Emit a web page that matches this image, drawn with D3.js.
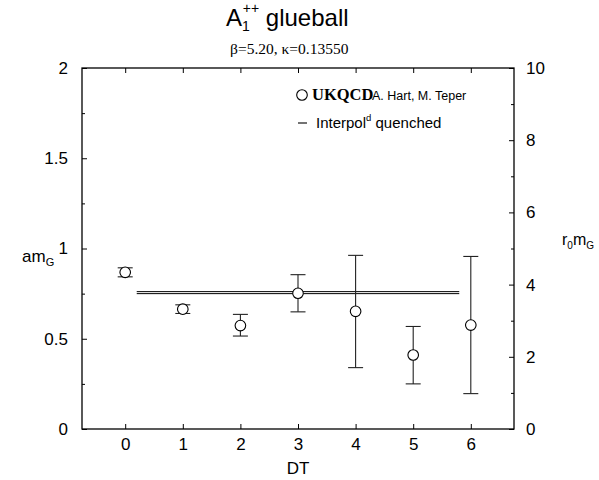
<!DOCTYPE html>
<html>
<head>
<meta charset="utf-8">
<script src="https://d3js.org/d3.v7.min.js"></script>
<style>
  body { margin: 0; background: #fff; }
  svg { font-family: "Liberation Sans", Arial, sans-serif; }
  .axis path { display: none; }
  .axis line { stroke: #000; }
  .axis text { font-size: 17px; fill: #000; font-family: "Liberation Sans", Arial, sans-serif; }
</style>
</head>
<body>
<div id="chart"></div>
<script>
// data
var dtValues   = [0, 1, 2, 3, 4, 5, 6];
var massValues = [0.868, 0.664, 0.573, 0.752, 0.652, 0.410, 0.576];
var errUpper   = [0.025, 0.024, 0.062, 0.103, 0.310, 0.158, 0.380];
var errLower   = [0.025, 0.024, 0.058, 0.103, 0.312, 0.160, 0.380];
var quenchedBand = [0.750, 0.761];
var quenchedRange = [0.2, 5.8];
var xTicks = [0, 1, 2, 3, 4, 5, 6];
var yTicks = [0, 0.5, 1, 1.5, 2];
var yMinorTicks = [0.25, 0.75, 1.25, 1.75];
var y2Ticks = [0, 2, 4, 6, 8, 10];
var y2MinorTicks = [1, 3, 5, 7, 9];

var width = 599, height = 480;
var plotL = 82, plotR = 514, plotT = 68, plotB = 429;

var svg = d3.select("#chart").append("svg")
  .attr("width", width)
  .attr("height", height);

var x = d3.scaleLinear().domain([-0.75, 6.75]).range([plotL, plotR]);
var y = d3.scaleLinear().domain([0, 2]).range([plotB, plotT]);
var y2 = d3.scaleLinear().domain([0, 10]).range([plotB, plotT]);

// axes, ticks pointing inward
svg.append("g").attr("class", "axis")
  .attr("transform", "translate(0," + plotB + ")")
  .call(d3.axisBottom(x).tickValues(xTicks).tickSize(-5).tickPadding(9).tickFormat(d3.format("d")));
svg.append("g").attr("class", "axis")
  .attr("transform", "translate(0," + plotT + ")")
  .call(d3.axisTop(x).tickValues(xTicks).tickSize(-5).tickFormat(""));
svg.append("g").attr("class", "axis")
  .attr("transform", "translate(" + plotL + ",0)")
  .call(d3.axisLeft(y).tickValues(yTicks).tickSize(-5).tickPadding(14).tickFormat(function(d){ return String(d); }));
svg.append("g").attr("class", "axis")
  .attr("transform", "translate(" + plotL + ",0)")
  .call(d3.axisLeft(y).tickValues(yMinorTicks).tickSize(-3).tickFormat(""));
svg.append("g").attr("class", "axis")
  .attr("transform", "translate(" + plotR + ",0)")
  .call(d3.axisRight(y2).tickValues(y2Ticks).tickSize(-5).tickPadding(12));
svg.append("g").attr("class", "axis")
  .attr("transform", "translate(" + plotR + ",0)")
  .call(d3.axisRight(y2).tickValues(y2MinorTicks).tickSize(-3).tickFormat(""));

// frame
svg.append("rect")
  .attr("x", plotL).attr("y", plotT)
  .attr("width", plotR - plotL).attr("height", plotB - plotT)
  .attr("fill", "none").attr("stroke", "#000").attr("stroke-width", 1.3);

// quenched band (two lines)
svg.selectAll(".qline").data(quenchedBand).enter().append("line")
  .attr("x1", x(quenchedRange[0])).attr("x2", x(quenchedRange[1]))
  .attr("y1", function(d){ return y(d); }).attr("y2", function(d){ return y(d); })
  .attr("stroke", "#000").attr("stroke-width", 1);

// error bars
var pts = dtValues.map(function(d, i){
  return { dt: d, m: massValues[i], hi: massValues[i] + errUpper[i], lo: massValues[i] - errLower[i] };
});
var cap = 7.5;
var eb = svg.append("g").attr("stroke", "#222").attr("stroke-width", 1.1);
eb.selectAll(".v").data(pts).enter().append("line")
  .attr("x1", function(d){ return x(d.dt); }).attr("x2", function(d){ return x(d.dt); })
  .attr("y1", function(d){ return y(d.hi); }).attr("y2", function(d){ return y(d.lo); });
eb.selectAll(".t").data(pts).enter().append("line")
  .attr("x1", function(d){ return x(d.dt) - cap; }).attr("x2", function(d){ return x(d.dt) + cap; })
  .attr("y1", function(d){ return y(d.hi); }).attr("y2", function(d){ return y(d.hi); });
eb.selectAll(".b").data(pts).enter().append("line")
  .attr("x1", function(d){ return x(d.dt) - cap; }).attr("x2", function(d){ return x(d.dt) + cap; })
  .attr("y1", function(d){ return y(d.lo); }).attr("y2", function(d){ return y(d.lo); });
svg.selectAll(".pt").data(pts).enter().append("circle")
  .attr("cx", function(d){ return x(d.dt); })
  .attr("cy", function(d){ return y(d.m); })
  .attr("r", 5.3)
  .attr("fill", "#fff").attr("stroke", "#000").attr("stroke-width", 1.1);

// title
var title = svg.append("text").attr("x", 226).attr("y", 26)
  .attr("font-size", 24).attr("fill", "#000");
title.append("tspan").text("A");
title.append("tspan").attr("font-size", 14).attr("dy", 5).text("1");
title.append("tspan").attr("font-size", 14).attr("dy", -18).attr("dx", -7).text("++");
title.append("tspan").attr("dy", 13).text(" glueball");

svg.append("text").attr("x", 230).attr("y", 54)
  .attr("font-family", "'Liberation Serif', 'Times New Roman', serif")
  .attr("font-size", 15.5).attr("fill", "#000")
  .text("\u03b2=5.20, \u03ba=0.13550");

// axis labels
var yl = svg.append("text").attr("x", 22).attr("y", 262).attr("font-size", 17);
yl.append("tspan").text("am");
yl.append("tspan").attr("font-size", 11).attr("dy", 4).text("G");

var yr = svg.append("text").attr("x", 562).attr("y", 245).attr("font-size", 16);
yr.append("tspan").text("r");
yr.append("tspan").attr("font-size", 10).attr("dy", 4).text("0");
yr.append("tspan").attr("dy", -4).text("m");
yr.append("tspan").attr("font-size", 10).attr("dy", 4).text("G");

svg.append("text").attr("x", x(3)).attr("y", 474).attr("text-anchor", "middle")
  .attr("font-size", 17).text("DT");

// legend
svg.append("circle").attr("cx", 302).attr("cy", 95).attr("r", 5.3)
  .attr("fill", "#fff").attr("stroke", "#000").attr("stroke-width", 1.1);
svg.append("text").attr("x", 312).attr("y", 100)
  .attr("font-family", "'Liberation Serif', 'Times New Roman', serif")
  .attr("font-weight", "bold").attr("font-size", 16.5).text("UKQCD");
svg.append("text").attr("x", 372).attr("y", 100).attr("font-size", 12.5).text("A. Hart, M. Teper");

svg.append("line").attr("x1", 298).attr("x2", 307).attr("y1", 123).attr("y2", 123)
  .attr("stroke", "#000").attr("stroke-width", 1.1);
var lg = svg.append("text").attr("x", 316).attr("y", 128).attr("font-size", 15);
lg.append("tspan").text("Interpol");
lg.append("tspan").attr("font-size", 9.5).attr("dy", -7).text("d");
lg.append("tspan").attr("dy", 7).text(" quenched");
</script>
</body>
</html>
